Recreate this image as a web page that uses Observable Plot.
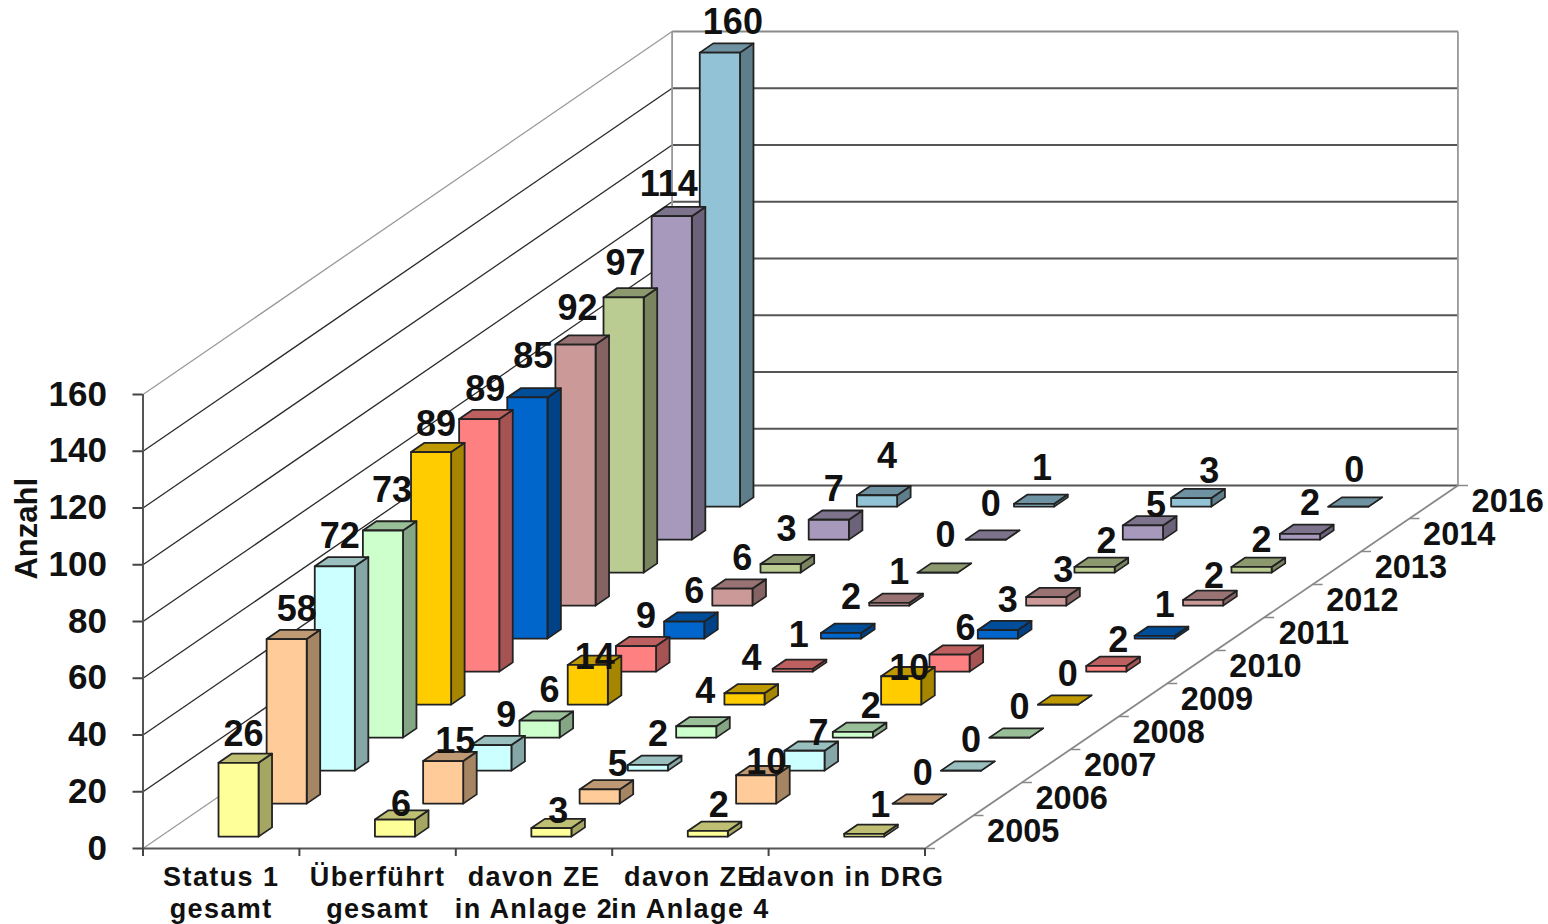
<!DOCTYPE html>
<html lang="de">
<head>
<meta charset="utf-8">
<title>Anzahl</title>
<script src="https://cdn.jsdelivr.net/npm/d3@7"></script>
<script src="https://cdn.jsdelivr.net/npm/@observablehq/plot@0.6"></script>
<style>
  html, body { margin: 0; background: #fff; }
  svg { display: block; font-family: "Liberation Sans", Arial, sans-serif; }
</style>
</head>
<body>
<div id="chart"></div>
<script>
// Category columns (front edge) and yearly rows (depth axis)
const categories = ["Status 1\ngesamt", "Überführt\ngesamt", "davon ZE\nin Anlage 2", "davon ZE\nin Anlage 4", "davon in DRG"];
const years = ["2005", "2006", "2007", "2008", "2009", "2010", "2011", "2012", "2013", "2014", "2016"];
const status1 = [26, 58, 72, 73, 89, 89, 85, 92, 97, 114, 160];
const ueberfuehrt = [6, 15, 9, 6, 14, 9, 6, 6, 3, 7, 4];
const anlage2 = [3, 5, 2, 4, 4, 1, 2, 1, 0, 0, 1];
const anlage4 = [2, 10, 7, 2, 10, 6, 3, 3, 2, 5, 3];
const drg = [1, 0, 0, 0, 0, 2, 1, 2, 2, 2, 0];
const yearColors = ["#FFFF99", "#FFCC99", "#CCFFFF", "#CCFFCC", "#FFCC00", "#FF8080", "#0066CC", "#CC9999", "#BBCC92", "#A699BB", "#92C2D6"];
const yTicks = [0, 20, 40, 60, 80, 100, 120, 140, 160];
const series = [status1, ueberfuehrt, anlage2, anlage4, drg];

// Hand placement of value labels that do not sit at the default spot ("column-row": [dx, dy])
const labelNudge = {
  "0-0": [-5, 2], "0-2": [-5, 0], "0-3": [-1, -10], "0-4": [-5, 2], "0-5": [-4, 0], "0-6": [-4, -11],
  "0-7": [-8, -6], "0-8": [-8, -4], "0-9": [-13, -2], "0-10": [3, 0],
  "1-0": [-4, 15], "1-1": [2, 10], "1-2": [5, 0], "1-4": [-3, 23], "1-8": [-4, -5], "1-9": [-5, 0], "1-10": [0, -9],
  "2-0": [-3, 13], "2-1": [8, 5], "2-3": [-1, -5], "2-4": [-3, -5], "2-5": [-4, -3], "2-6": [0, -5],
  "2-8": [-2, -7], "2-9": [-5, -5], "2-10": [-2, -5],
  "3-0": [1, 5], "3-1": [0, 17], "3-2": [4, 13], "3-3": [8, 5], "3-4": [-2, 22], "3-5": [6, 4],
  "3-7": [7, 3], "3-8": [2, 5], "3-9": [3, 10], "3-10": [8, 3],
  "4-0": [6, 2], "4-5": [2, 5], "4-7": [1, 7], "4-8": [0, 4], "4-10": [-4, -6]
};

// Oblique projection: each row shifts a point right and up in data units,
// slightly more towards the right-hand side of the floor
const unitX = 156.4, unitY = 2.8375, originX = 142.5;
const shearX0 = 48.1 / unitX, shearX1 = 0.07 / unitX, shearY = 33 / unitY;
const px = d => d.u + d.w * (shearX0 + d.u * shearX1);
const py = d => d.v + d.w * shearY;

const barU = 0.372, barW = 0.256, rowStart = 0.36, rowDepth = 0.28;

function scale(hex, f) {
  const c = d3.rgb(hex);
  return d3.rgb(c.r * f, c.g * f, c.b * f).formatHex();
}

// Three visible faces per bar, painted back to front
const faces = [];
const labels = [];
for (let k = years.length - 1; k >= 0; --k) {
  series.forEach((values, c) => {
    const v = values[k];
    const u0 = c + barU, u1 = u0 + barW;
    const w0 = k + rowStart, w1 = w0 + rowDepth;
    const polys = [
      [scale(yearColors[k], 0.65), [[u1, w0, 0], [u1, w1, 0], [u1, w1, v], [u1, w0, v]]],
      [scale(yearColors[k], 0.75), [[u0, w0, v], [u1, w0, v], [u1, w1, v], [u0, w1, v]]],
      [yearColors[k], [[u0, w0, 0], [u1, w0, 0], [u1, w0, v], [u0, w0, v]]]
    ];
    polys.forEach(([fill, pts], f) => {
      const id = `${k}-${c}-${f}`;
      [...pts, pts[0]].forEach(([u, w, val]) => faces.push({id, fill, u, w, v: val}));
    });
    const [ndx, ndy] = labelNudge[`${c}-${k}`] ?? [0, 0];
    labels.push({u: u0 + barW / 2, w: w0, v, text: String(v), ndx, ndy});
  });
}

const depth = years.length;
const walls = yTicks.map(v => ({v}));
const rowTicks = d3.range(depth + 1).map(w => ({u: 5, w, v: 0}));
const at = (u, w, v) => ({u, w, v});

// Plot.text takes constant dx/dy, so nudged labels are grouped by their offset
const labelGroups = d3.groups(labels, d => `${d.ndx},${d.ndy}`);

const chart = Plot.plot({
  width: 1548,
  height: 924,
  margin: 0,
  x: {domain: [-originX / unitX, (1548 - originX) / unitX], range: [0, 1548], axis: null},
  y: {domain: [-(924 - 848) / unitY, 848 / unitY], range: [924, 0], axis: null},
  color: {type: "identity"},
  marks: [
    // Left and back walls with their gridlines
    Plot.link(walls, {
      x1: d => px(at(0, 0, d.v)), y1: d => py(at(0, 0, d.v)),
      x2: d => px(at(0, depth, d.v)), y2: d => py(at(0, depth, d.v)),
      stroke: d => (d.v === 0 || d.v === 160) ? "#9a9a9a" : "#2a2a2a", strokeWidth: 1.3
    }),
    Plot.link(walls, {
      x1: d => px(at(0, depth, d.v)), y1: d => py(at(0, depth, d.v)),
      x2: d => px(at(5, depth, d.v)), y2: d => py(at(5, depth, d.v)),
      stroke: d => d.v === 160 ? "#8a8a8a" : "#555", strokeWidth: 1.8
    }),
    Plot.link([0, 5], {
      x1: d => px(at(d, depth, 0)), y1: d => py(at(d, depth, 0)),
      x2: d => px(at(d, depth, 160)), y2: d => py(at(d, depth, 160)),
      stroke: "#999", strokeWidth: 1.8
    }),
    // Right floor edge with a tick per row
    Plot.link([0], {
      x1: px(at(5, 0, 0)), y1: 0, x2: px(at(5, depth, 0)), y2: py(at(5, depth, 0)),
      stroke: "#888", strokeWidth: 1.8
    }),
    Plot.link(rowTicks, {
      x1: px, y1: py,
      x2: d => px(d) + 10 / unitX, y2: py,
      stroke: "#888", strokeWidth: 1.5
    }),
    // Front axes
    Plot.ruleX([0], {y1: 0, y2: 160, stroke: "#555", strokeWidth: 2}),
    Plot.ruleY([0], {x1: 0, x2: 5, stroke: "#555", strokeWidth: 2}),
    Plot.axisY(yTicks, {
      x: 0, anchor: "left", tickSize: 10, tickPadding: 26, label: null,
      fontSize: 35, fontWeight: "bold", fill: "#111", stroke: "#444", strokeWidth: 2
    }),
    Plot.axisX(d3.range(6), {
      y: 0, anchor: "bottom", tickSize: 8, tickFormat: () => "", label: null,
      stroke: "#444", strokeWidth: 2
    }),
    // Bars
    Plot.line(faces, {
      x: px, y: py, z: "id", fill: "fill",
      stroke: "#222", strokeWidth: 1.8, strokeLinejoin: "round", curve: "linear"
    }),
    // Value labels
    labelGroups.map(([, group]) => Plot.text(group, {
      x: px, y: py, text: "text", dx: 10 + group[0].ndx, dy: -30 + group[0].ndy,
      fontSize: 36, fontWeight: "bold", fill: "#111", textAnchor: "middle"
    })),
    // Category labels below the front edge, slightly letter-spaced
    Plot.text(categories, {
      x: (d, i) => i + 0.5, y: 0, text: d => d, dy: 15,
      lineAnchor: "top", lineHeight: 1.17, fontSize: 27, fontWeight: "bold", fill: "#111",
      render(index, scales, values, dimensions, context, next) {
        const g = next(index, scales, values, dimensions, context);
        g.style.letterSpacing = "1.4px";
        return g;
      }
    }),
    // Year labels along the floor edge
    Plot.text(years, {
      x: (d, i) => px(at(5, i + 0.5, 0)), y: (d, i) => py(at(5, i + 0.5, 0)),
      text: d => d, dx: 74, fontSize: 32.5, fontWeight: "bold", fill: "#111"
    }),
    // Value-axis title
    Plot.text(["Anzahl"], {
      x: -116 / unitX, y: 112.7, text: d => d, rotate: -90,
      fontSize: 31, fontWeight: "bold", fill: "#111"
    })
  ]
});
document.getElementById("chart").append(chart);
</script>
</body>
</html>
